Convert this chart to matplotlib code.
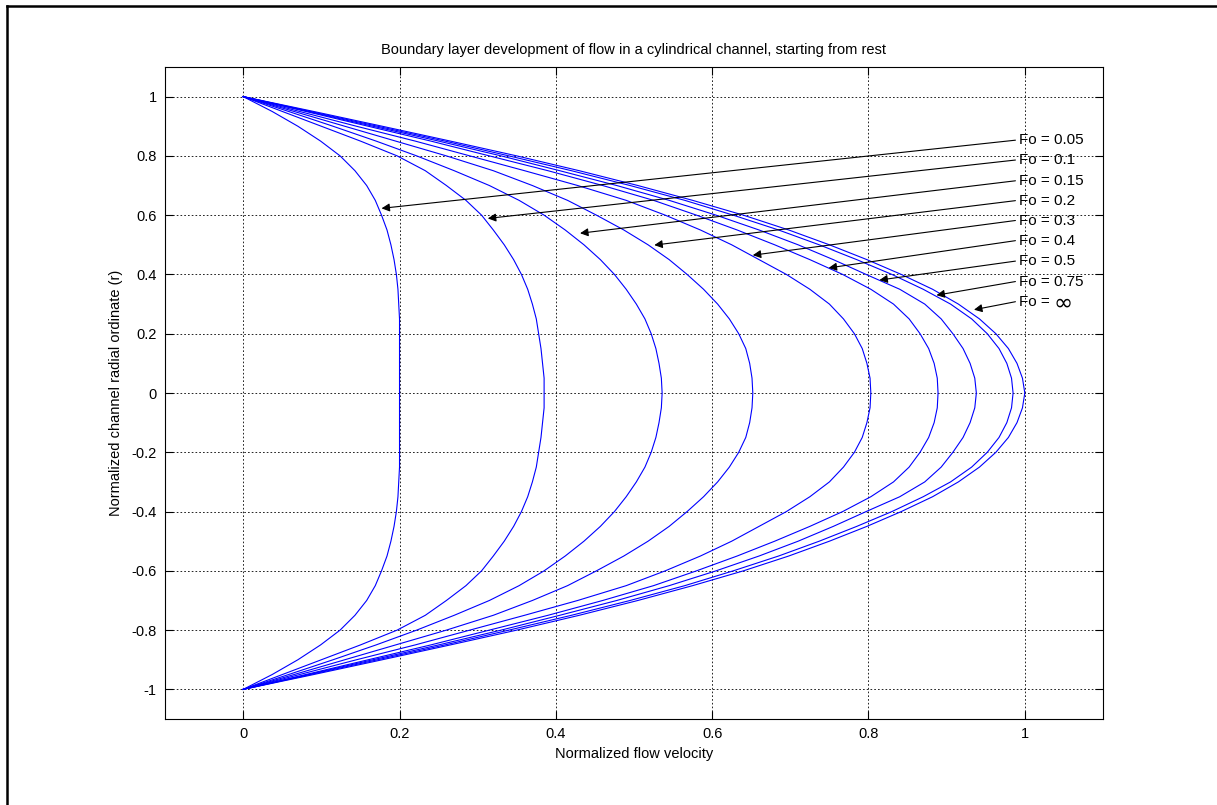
import numpy as np
import matplotlib
matplotlib.use("Agg")
import matplotlib.pyplot as plt
from matplotlib.lines import Line2D

plt.rcParams["font.family"] = ["Liberation Sans", "DejaVu Sans"]

# ---------------- Data ----------------

# radial ordinate from the wall (1) to the centre (0); the lower half mirrors it
r_half = [1.0, 0.95, 0.9, 0.85, 0.8, 0.75, 0.7, 0.65, 0.6, 0.55, 0.5,
          0.45, 0.4, 0.35, 0.3, 0.25, 0.2, 0.15, 0.1, 0.05, 0.0]

vel_fo005 = [0, 0.037, 0.070, 0.099, 0.124, 0.143, 0.158, 0.169, 0.177, 0.184, 0.189,
             0.193, 0.196, 0.198, 0.199, 0.200, 0.200, 0.200, 0.200, 0.200, 0.200]
vel_fo010 = [0, 0.050, 0.100, 0.150, 0.197, 0.233, 0.260, 0.285, 0.305, 0.320, 0.334,
             0.346, 0.356, 0.364, 0.370, 0.375, 0.378, 0.381, 0.383, 0.385, 0.385]
vel_fo015 = [0, 0.058, 0.115, 0.170, 0.222, 0.270, 0.315, 0.353, 0.385, 0.412, 0.436,
             0.457, 0.475, 0.490, 0.503, 0.514, 0.522, 0.528, 0.532, 0.535, 0.536]
vel_fo020 = [0, 0.065, 0.130, 0.195, 0.260, 0.320, 0.370, 0.415, 0.452, 0.487, 0.518,
             0.545, 0.568, 0.589, 0.607, 0.622, 0.634, 0.643, 0.648, 0.651, 0.652]
vel_fo030 = [0, 0.072, 0.145, 0.220, 0.290, 0.360, 0.428, 0.490, 0.540, 0.585, 0.625,
             0.660, 0.695, 0.725, 0.750, 0.768, 0.782, 0.792, 0.798, 0.802, 0.803]
vel_fo040 = [0, 0.080, 0.160, 0.240, 0.315, 0.390, 0.460, 0.525, 0.580, 0.632, 0.680,
             0.725, 0.767, 0.803, 0.832, 0.852, 0.866, 0.877, 0.884, 0.888, 0.889]
vel_fo050 = [0, 0.083, 0.166, 0.250, 0.330, 0.405, 0.478, 0.545, 0.605, 0.660, 0.710,
             0.755, 0.797, 0.840, 0.872, 0.893, 0.908, 0.921, 0.930, 0.936, 0.938]
vel_fo075 = [0, 0.086, 0.172, 0.258, 0.340, 0.420, 0.495, 0.565, 0.627, 0.685, 0.737,
             0.785, 0.830, 0.870, 0.905, 0.932, 0.952, 0.967, 0.977, 0.983, 0.985]
vel_foinf = [0, 0.090, 0.178, 0.265, 0.350, 0.430, 0.505, 0.575, 0.640, 0.698, 0.750,
             0.798, 0.842, 0.882, 0.915, 0.942, 0.963, 0.979, 0.990, 0.997, 1.000]

profiles = [vel_fo005, vel_fo010, vel_fo015, vel_fo020, vel_fo030,
            vel_fo040, vel_fo050, vel_fo075, vel_foinf]

fo_labels = ["Fo = 0.05", "Fo = 0.1", "Fo = 0.15", "Fo = 0.2", "Fo = 0.3",
             "Fo = 0.4", "Fo = 0.5", "Fo = 0.75", "Fo = "]

# arrow heads (points on the curves) and label rows
tip_x = [0.177, 0.313, 0.431, 0.526, 0.652, 0.749, 0.814, 0.887, 0.935]
tip_y = [0.623, 0.589, 0.539, 0.499, 0.465, 0.422, 0.381, 0.330, 0.281]
label_y = [0.853, 0.786, 0.716, 0.649, 0.582, 0.514, 0.445, 0.376, 0.308]

# ---------------- Figure ----------------

fig = plt.figure(figsize=(12.17, 8.05), dpi=100)
ax = fig.add_axes([0.1356, 0.1068, 0.7707, 0.81])

r_full = np.concatenate([r_half, -np.array(r_half[-2::-1])])
for vel in profiles:
    v_full = np.concatenate([vel, vel[-2::-1]])
    ax.plot(v_full, r_full, color=(0, 0, 1), lw=0.8)

ax.set_xlim(-0.1, 1.1)
ax.set_ylim(-1.1, 1.1)
ax.set_xticks([0, 0.2, 0.4, 0.6, 0.8, 1])
ax.set_xticklabels(["0", "0.2", "0.4", "0.6", "0.8", "1"])
ax.set_yticks([-1, -0.8, -0.6, -0.4, -0.2, 0, 0.2, 0.4, 0.6, 0.8, 1])
ax.set_yticklabels(["-1", "-0.8", "-0.6", "-0.4", "-0.2", "0", "0.2", "0.4", "0.6", "0.8", "1"])
ax.tick_params(direction="in", length=6, width=0.8, top=True, right=True,
               labelsize=10.5, pad=6)
ax.grid(True, color="k", linestyle=(0, (2, 2.5)), linewidth=0.6)
for s in ax.spines.values():
    s.set_linewidth(0.8)

ax.set_title("Boundary layer development of flow in a cylindrical channel, starting from rest",
             fontsize=10.5, pad=9)
ax.set_xlabel("Normalized flow velocity", fontsize=10.5, labelpad=4)
ax.set_ylabel("Normalized channel radial ordinate (r)", fontsize=10.5, labelpad=6)

# ---------------- Annotations ----------------

for lab, tx, ty, ly in zip(fo_labels, tip_x, tip_y, label_y):
    ax.annotate("", xy=(tx, ty), xytext=(0.988, ly),
                arrowprops=dict(arrowstyle="-|>", color="k", lw=0.8,
                                mutation_scale=12, shrinkA=0, shrinkB=0))
    ax.text(0.992, ly, lab, fontsize=11, va="center", ha="left")
ax.text(1.037, label_y[-1] - 0.006, "\u221e", fontsize=16.5, va="center", ha="left",
        family="DejaVu Sans")

# outer frame: only the left and top edges show in the reference
fig.lines.append(Line2D([6.5 / 1217, 6.5 / 1217], [0, 1 - 6.5 / 805],
                        transform=fig.transFigure, color="k", lw=1.8))
fig.lines.append(Line2D([6.5 / 1217, 1], [1 - 6.5 / 805, 1 - 6.5 / 805],
                        transform=fig.transFigure, color="k", lw=1.8))

fig.savefig("out.png", dpi=100)
